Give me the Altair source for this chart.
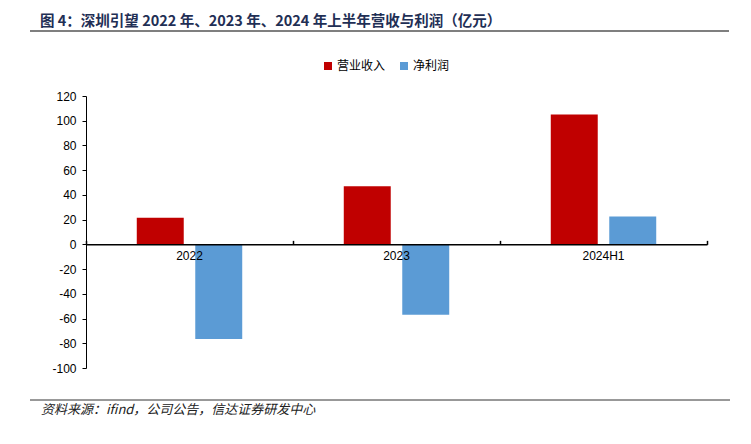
import altair as alt
import pandas as pd

categories = ["2022", "2023", "2024H1"]
revenue = [21.5, 47, 105]
profit = [-76.5, -57, 22.5]
series = ["营业收入", "净利润"]
colors = ["#C00000", "#5B9BD5"]
y_min, y_max = -100, 120
y_ticks = list(range(-100, 121, 20))
title_text = "图 4：深圳引望 2022 年、2023 年、2024 年上半年营收与利润（亿元）"
source_text = "资料来源：ifind，公司公告，信达证券研发中心"

rows = []
for c, r, p in zip(categories, revenue, profit):
    rows.append({"cat": c, "series": series[0], "value": r})
    rows.append({"cat": c, "series": series[1], "value": p})
df = pd.DataFrame(rows)

W, H = 621, 272
zero_px = H * (y_max - 0) / (y_max - y_min)

LAT = "Liberation Sans"
CJK = "Noto Sans CJK SC"

yenc = alt.Y(
    "value:Q",
    scale=alt.Scale(domain=[y_min, y_max], nice=False, zero=False),
    axis=alt.Axis(
        values=y_ticks, title=None, grid=False, domainColor="black", tickColor="black",
        tickSize=4, labelFontSize=12, labelFont=LAT, labelColor="black", labelPadding=6,
        labelExpr="'' + datum.value",
    ),
)
xscale = alt.Scale(domain=categories, paddingInner=0, paddingOuter=0)

bars = alt.Chart(df).mark_bar().encode(
    x=alt.X("cat:N", sort=categories, scale=xscale,
            axis=alt.Axis(orient="bottom", offset=-(H - zero_px), title=None, ticks=False,
                          domainColor="black", domainWidth=1.5, labelAngle=0, labelFontSize=12,
                          labelFont=LAT, labelColor="black", labelPadding=6, zindex=1)),
    xOffset=alt.XOffset("series:N", sort=series,
                        scale=alt.Scale(domain=series, paddingInner=0.197, paddingOuter=0.868)),
    y=yenc,
    color=alt.Color("series:N", sort=series,
                    scale=alt.Scale(domain=series, range=colors),
                    legend=alt.Legend(title=None, orient="none", direction="horizontal",
                                      legendX=236, legendY=-36, symbolType="square",
                                      symbolSize=64, symbolStrokeWidth=0, labelFont=CJK,
                                      labelFontSize=12, labelColor="black", labelOffset=3,
                                      columnPadding=12, padding=0)),
)

ticks_layer = alt.Chart(df).mark_bar(opacity=0).encode(
    x=alt.X("cat:N", sort=categories, scale=xscale,
            axis=alt.Axis(orient="top", offset=-zero_px, title=None, labels=False,
                          domain=False, ticks=True, tickBand="extent", tickSize=4,
                          tickColor="black", tickWidth=1.5, zindex=1)),
    y=yenc,
)

title_mark = alt.Chart(pd.DataFrame({"t": [title_text]})).mark_text(
    align="left", baseline="middle", fontSize=14.5, fontWeight="bold", font=CJK, color="#1f2f55"
).encode(x=alt.value(-46), y=alt.value(-74.5), text="t:N")

title_rule = alt.Chart(pd.DataFrame({"a": [0]})).mark_rule(color="#7f7f7f", strokeWidth=2).encode(
    x=alt.value(-56), x2=alt.value(643), y=alt.value(-65)
)

src_rule = alt.Chart(pd.DataFrame({"a": [0]})).mark_rule(color="#333333", strokeWidth=1).encode(
    x=alt.value(-56), x2=alt.value(644), y=alt.value(304)
)

src_mark = alt.Chart(pd.DataFrame({"t": [source_text]})).mark_text(
    align="left", baseline="middle", fontSize=13, fontStyle="italic", font=CJK, color="#222222"
).encode(x=alt.value(-45), y=alt.value(314), text="t:N")

chart = alt.layer(bars, ticks_layer, title_mark, title_rule, src_rule, src_mark).resolve_axis(
    x="independent"
).properties(
    width=W, height=H,
    autosize=alt.AutoSizeParams(type="none"),
    padding={"left": 78, "top": 88, "right": 36, "bottom": 68},
).configure_view(stroke=None)

chart.save("out.html", embed_options={"renderer": "svg", "actions": False})
